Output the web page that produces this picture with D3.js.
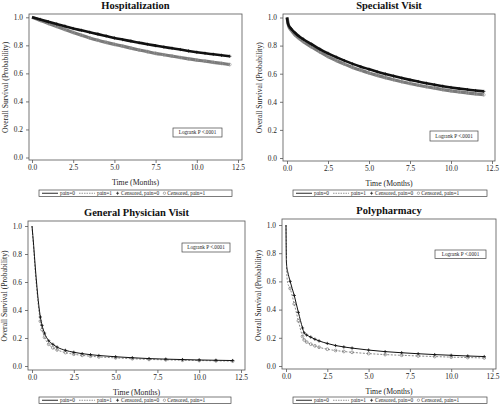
<!DOCTYPE html>
<html><head><meta charset="utf-8">
<script src="https://cdn.jsdelivr.net/npm/d3@7"></script>
<style>
html,body{margin:0;padding:0;background:#fff;}
svg{display:block;}
svg text{font-family:"Liberation Serif","Times New Roman",serif;}
</style></head>
<body><svg id="c" width="500" height="406"></svg>
<script>
// ---- data ----
const titles = ["Hospitalization","Specialist Visit","General Physician Visit","Polypharmacy"];
const xTicks = [0, 2.5, 5, 7.5, 10, 12.5];
const yTicks = [0, 0.2, 0.4, 0.6, 0.8, 1.0];
const legendLabels = ["pain=0","pain=1","Censored, pain=0","Censored, pain=1"];
const logrankText = "Logrank P <.0001";

const hospTime = [0,0.5,1,1.5,2,2.5,3,3.5,4,4.5,5,5.5,6,6.5,7,7.5,8,8.5,9,9.5,10,10.5,11,11.5,12];
const hospPain0 = [1.0,0.985,0.968,0.952,0.937,0.92,0.907,0.893,0.88,0.866,0.852,0.841,0.83,0.819,0.808,0.798,0.788,0.779,0.77,0.76,0.751,0.743,0.736,0.729,0.722];
const hospPain1 = [1.0,0.978,0.956,0.935,0.913,0.892,0.872,0.853,0.836,0.821,0.807,0.794,0.78,0.767,0.755,0.743,0.733,0.723,0.713,0.704,0.695,0.687,0.679,0.671,0.663];

const specTime = [0,0.05,0.1,0.25,0.5,0.75,1,1.5,2,2.5,3,3.5,4,4.5,5,5.5,6,6.5,7,7.5,8,8.5,9,9.5,10,10.5,11,11.5,12];
const specPain0 = [1.0,0.96,0.945,0.92,0.89,0.865,0.845,0.81,0.775,0.745,0.718,0.693,0.67,0.65,0.632,0.614,0.598,0.583,0.569,0.556,0.544,0.532,0.521,0.511,0.502,0.494,0.487,0.48,0.474];
const specPain1 = [1.0,0.97,0.94,0.91,0.875,0.85,0.828,0.79,0.755,0.722,0.694,0.668,0.645,0.624,0.605,0.588,0.572,0.557,0.543,0.53,0.518,0.507,0.497,0.487,0.478,0.47,0.463,0.456,0.45];

const gpTime = [0,0.1,0.2,0.3,0.4,0.5,0.6,0.75,1,1.25,1.5,2,2.5,3,3.5,4,5,6,7,8,9,10,11,12];
const gpPain0 = [1.0,0.86,0.70,0.56,0.44,0.35,0.29,0.235,0.18,0.155,0.135,0.112,0.098,0.088,0.081,0.075,0.066,0.059,0.053,0.049,0.046,0.043,0.041,0.039];
const gpPain1 = [1.0,0.84,0.67,0.53,0.41,0.32,0.26,0.205,0.155,0.13,0.115,0.096,0.084,0.076,0.07,0.065,0.058,0.052,0.047,0.044,0.041,0.039,0.037,0.035];

const polyTime = [0,0.02,0.05,0.1,0.25,0.5,0.75,1,1.1,1.25,1.5,1.75,2,2.5,3,3.5,4,5,6,7,8,9,10,11,12];
const polyPain0 = [1.0,0.75,0.70,0.67,0.6,0.5,0.38,0.27,0.235,0.22,0.205,0.19,0.178,0.16,0.145,0.135,0.127,0.113,0.102,0.094,0.087,0.081,0.076,0.071,0.067];
const polyPain1 = [1.0,0.85,0.65,0.59,0.55,0.44,0.32,0.21,0.185,0.17,0.155,0.143,0.133,0.119,0.11,0.103,0.097,0.088,0.081,0.076,0.071,0.067,0.063,0.06,0.057];

// ---- layout ----
const panels = [
  {title:titles[0], t:hospTime, p0:hospPain0, p1:hospPain1, frame:[29,242,14,160], xr:[32,238], yr:[157.5,17.3], lw:2.6, box:[173,128,49,9], leg:[39,190,193,6.5], band:true, mk:0.25},
  {title:titles[1], t:specTime, p0:specPain0, p1:specPain1, frame:[283,495,14,161], xr:[287,492], yr:[158,17.5], lw:2.6, box:[430,131,48,10], leg:[293,190,194,6.5], band:true, mk:0.25},
  {title:titles[2], t:gpTime, p0:gpPain0, p1:gpPain1, frame:[28,245,221,370], xr:[32,241], yr:[366,226], lw:1, box:[182,243,48,9], leg:[39,397,192,6.5], band:false, mk:0.5},
  {title:titles[3], t:polyTime, p0:polyPain0, p1:polyPain1, frame:[282,496,219,369], xr:[286,492.5], yr:[366,225], lw:1, box:[435,250,51,8.5], leg:[293,397,194,6.5], band:false, mk:0.25}
];

const svg = d3.select("#c");
const BLACK = "#111", GRAY = "#7a7a7a", TXT = "#1e1e1e";
const SERIF = "Liberation Serif, Times New Roman, serif";

panels.forEach(p => {
  const g = svg.append("g");
  const x = d3.scaleLinear().domain([0,12.5]).range(p.xr);
  const y = d3.scaleLinear().domain([0,1]).range(p.yr);
  const [fl, fr, ft, fb] = p.frame;

  g.append("rect").attr("x",fl).attr("y",ft).attr("width",fr-fl).attr("height",fb-ft)
    .attr("fill","none").attr("stroke","#555").attr("stroke-width",0.8);

  const xa = g.append("g").attr("transform",`translate(0,${fb})`)
    .call(d3.axisBottom(x).tickValues(xTicks).tickFormat(d3.format(".1f")).tickSize(3).tickPadding(2));
  xa.select(".domain").remove();
  const ya = g.append("g").attr("transform",`translate(${fl},0)`)
    .call(d3.axisLeft(y).tickValues(yTicks).tickFormat(d3.format(".1f")).tickSize(3).tickPadding(3));
  ya.select(".domain").remove();
  xa.attr("font-family",SERIF); ya.attr("font-family",SERIF);
  g.selectAll(".tick line").attr("stroke","#555").attr("stroke-width",0.8);
  g.selectAll(".tick text").attr("font-family",SERIF).attr("font-size",7.4).attr("fill",TXT);

  g.append("text").attr("x",(fl+fr)/2).attr("y",ft-5).attr("text-anchor","middle")
    .attr("font-family",SERIF).attr("font-weight","bold").attr("font-size",10.5).attr("fill","#111").text(p.title);
  g.append("text").attr("x",(fl+fr)/2).attr("y",fb+25).attr("text-anchor","middle")
    .attr("font-family",SERIF).attr("font-size",7.8).attr("fill",TXT).text("Time (Months)");
  g.append("text").attr("transform",`translate(${fl-21},${(p.yr[0]+p.yr[1])/2}) rotate(-90)`)
    .attr("font-family",SERIF).attr("text-anchor","middle").attr("font-size",7.6).attr("fill",TXT).text("Overall Survival (Probability)");

  const d0 = p.t.map((t,i)=>[t,p.p0[i]]);
  const d1 = p.t.map((t,i)=>[t,p.p1[i]]);
  const line = d3.line().x(d=>x(d[0])).y(d=>y(d[1])).curve(d3.curveMonotoneX);

  if (p.band) g.append("path").attr("d",line(d1)).attr("fill","none").attr("stroke",GRAY).attr("stroke-width",p.lw+0.6);
  g.append("path").attr("d",line(d1)).attr("fill","none").attr("stroke",GRAY).attr("stroke-width",p.band?0.8:0.9)
    .attr("stroke-dasharray","2,1.5");
  g.selectAll(null).data(d1.filter(d=>d[0]>=p.mk)).enter().append("circle")
    .attr("cx",d=>x(d[0])).attr("cy",d=>y(d[1])).attr("r",1.4)
    .attr("fill","none").attr("stroke",p.band?"#999":GRAY).attr("stroke-width",0.7);

  g.append("path").attr("d",line(d0)).attr("fill","none").attr("stroke",BLACK).attr("stroke-width",p.lw);
  g.selectAll(null).data(d0.filter(d=>d[0]>=p.mk)).enter().append("path")
    .attr("d",d=>{const cx=x(d[0]), cy=y(d[1]); return `M${cx-1.6},${cy}H${cx+1.6}M${cx},${cy-1.6}V${cy+1.6}`;})
    .attr("stroke",BLACK).attr("stroke-width",0.8);

  const [bx,by,bw,bh] = p.box;
  g.append("rect").attr("x",bx).attr("y",by).attr("width",bw).attr("height",bh)
    .attr("fill","#fff").attr("stroke","#444").attr("stroke-width",0.7);
  g.append("text").attr("x",bx+bw/2).attr("y",by+bh/2+1.8).attr("text-anchor","middle")
    .attr("font-family",SERIF).attr("font-size",5.2).attr("fill",TXT).text(logrankText);

  const [lx,ly,lw,lh] = p.leg;
  g.append("rect").attr("x",lx).attr("y",ly).attr("width",lw).attr("height",lh)
    .attr("fill","#fff").attr("stroke","#444").attr("stroke-width",0.7);
  const cy = ly+lh/2;
  let cx = lx+3;
  const fs = 5.4;
  function txt(s){ const t=g.append("text").attr("x",cx).attr("y",cy+1.9).attr("font-family",SERIF).attr("font-size",fs).attr("fill",TXT).text(s); cx += t.node().getComputedTextLength(); }
  g.append("line").attr("x1",cx).attr("x2",cx+16).attr("y1",cy).attr("y2",cy).attr("stroke",BLACK).attr("stroke-width",0.9); cx+=18;
  txt(legendLabels[0]); cx+=4;
  g.append("line").attr("x1",cx).attr("x2",cx+16).attr("y1",cy).attr("y2",cy).attr("stroke",GRAY).attr("stroke-width",0.8).attr("stroke-dasharray","1.5,1"); cx+=18;
  txt(legendLabels[1]); cx+=4;
  g.append("path").attr("d",`M${cx},${cy}H${cx+3}M${cx+1.5},${cy-1.5}V${cy+1.5}`).attr("stroke",BLACK).attr("stroke-width",0.7); cx+=5;
  txt(legendLabels[2]); cx+=4;
  g.append("circle").attr("cx",cx+1.3).attr("cy",cy).attr("r",1.2).attr("fill","none").attr("stroke",GRAY).attr("stroke-width",0.6); cx+=4;
  txt(legendLabels[3]);
});
</script></body></html>
